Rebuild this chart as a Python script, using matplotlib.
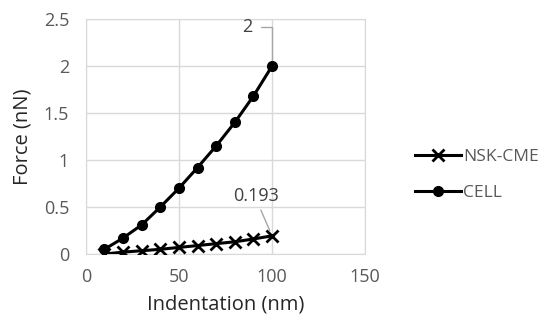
import matplotlib
matplotlib.use("Agg")
import matplotlib.pyplot as plt

indentation = [10, 20, 30, 40, 50, 60, 70, 80, 90, 100]
nsk_cme = [0.0, 0.02, 0.035, 0.05, 0.07, 0.09, 0.11, 0.13, 0.16, 0.193]
cell = [0.05, 0.17, 0.31, 0.50, 0.70, 0.92, 1.15, 1.40, 1.68, 2.0]
xticks = [0, 50, 100, 150]
yticks = [0, 0.5, 1, 1.5, 2, 2.5]
ytick_labels = ["0", "0.5", "1", "1.5", "2", "2.5"]

plt.rcParams['font.family'] = ['Open Sans', 'DejaVu Sans']

fig = plt.figure(figsize=(5.5, 3.31), dpi=100)
ax = fig.add_axes([0.156, 0.2326, 0.508, 0.71])

l1, = ax.plot(indentation, nsk_cme, color='black', lw=2.2, marker='x', ms=8, mew=2, label='NSK-CME', zorder=3)
l2, = ax.plot(indentation, cell, color='black', lw=2.2, marker='o', ms=7, label='CELL', zorder=3)

ax.set_xlim(0, 150)
ax.set_ylim(0, 2.5)
ax.set_xticks(xticks)
ax.set_yticks(yticks)
ax.set_yticklabels(ytick_labels)
ax.grid(True, color='#d9d9d9', lw=1)
ax.set_axisbelow(True)
for s in ax.spines.values():
    s.set_color('#d9d9d9')
ax.tick_params(length=0, labelsize=13, labelcolor='#595959')
ax.tick_params(axis='y', pad=12)
ax.tick_params(axis='x', pad=10)
ax.set_xlabel('Indentation (nm)', fontsize=14.5, color='#262626', labelpad=6)
ax.set_ylabel('Force (nN)', fontsize=14.5, color='#262626', labelpad=8)

# data labels
ax.annotate('2', xy=(indentation[-1], cell[-1]), xytext=(89.5, 2.41),
            fontsize=13, color='#404040', ha='right', va='center',
            arrowprops=dict(arrowstyle='-', color='#a6a6a6', lw=1,
                            connectionstyle='angle,angleA=0,angleB=90,rad=0',
                            shrinkA=4, shrinkB=4))
ax.annotate('0.193', xy=(indentation[-1], nsk_cme[-1]), xytext=(91.5, 0.62),
            fontsize=13, color='#404040', ha='center', va='center',
            arrowprops=dict(arrowstyle='-', color='#a6a6a6', lw=1,
                            relpos=(0.55, 0.0), shrinkA=2, shrinkB=4))

leg = fig.legend(handles=[l1, l2], loc='center left', bbox_to_anchor=(0.727, 0.472),
                 frameon=False, fontsize=12.5, handlelength=2.6, handletextpad=0.15,
                 labelspacing=1.15)
for t in leg.get_texts():
    t.set_color('#595959')

fig.savefig('out.png', dpi=100)
